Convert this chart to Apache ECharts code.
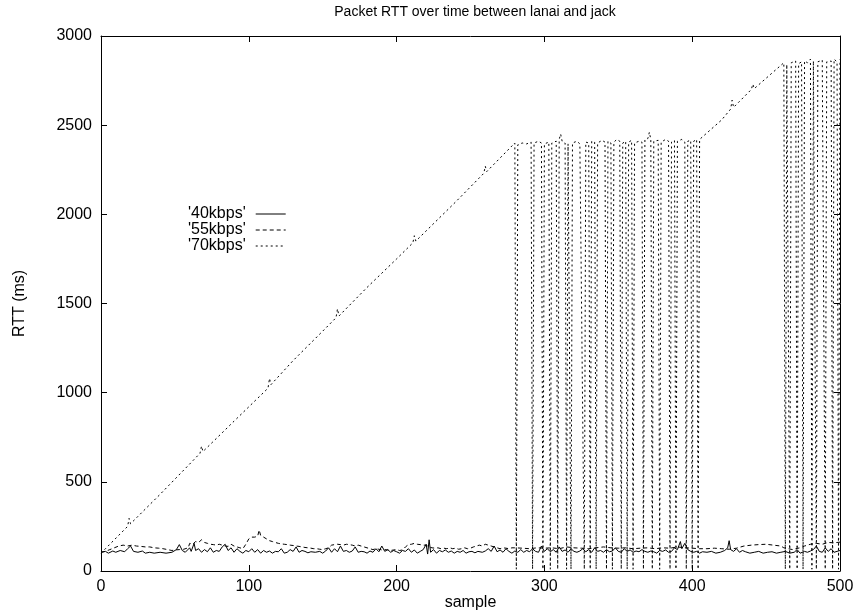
<!DOCTYPE html>
<html>
<head>
<meta charset="utf-8">
<title>Packet RTT over time between lanai and jack</title>
<script src="https://cdn.jsdelivr.net/npm/echarts@6/dist/echarts.min.js"></script>
<style>
  html, body { margin: 0; padding: 0; background: #fff; }
  #chart { width: 853px; height: 613px; }
</style>
</head>
<body>
<div id="chart"></div>
<script>
// series names as in the gnuplot key
var seriesNames = ["'40kbps'", "'55kbps'", "'70kbps'"];

// [sample, RTT ms]
var rtt40 = [
  [0,105],[3,110],[5,100],[8,112],[10,105],[13,115],[16,108],[18,125],[20,140],[22,110],
  [25,105],[28,112],[30,100],[33,105],[36,100],[40,105],[44,100],[48,105],[51,120],[53,148],
  [55,115],[57,105],[60,130],[61,110],[63,155],[64,115],[66,125],[68,105],[70,120],[72,108],
  [74,130],[76,105],[78,115],[80,110],[82,135],[84,150],[86,115],[88,130],[90,105],[92,125],
  [94,110],[96,100],[98,115],[100,108],[102,125],[104,105],[106,120],[108,100],[110,115],[112,105],
  [114,112],[116,100],[118,110],[120,108],[122,125],[124,100],[126,105],[128,120],[130,110],[132,135],
  [134,105],[136,115],[138,110],[140,102],[142,108],[145,105],[148,110],[150,100],[152,112],[154,130],
  [156,105],[158,125],[160,108],[162,140],[164,110],[166,115],[168,105],[170,112],[172,135],[174,105],
  [176,110],[178,108],[180,100],[182,112],[184,105],[186,125],[188,108],[190,140],[192,110],[194,120],
  [196,105],[198,115],[200,108],[202,100],[204,115],[206,110],[208,125],[210,105],[212,118],[214,100],
  [216,110],[218,120],[220,150],[221,95],[222,175],[223,105],[225,120],[227,100],[229,115],[231,108],
  [233,118],[235,105],[237,112],[239,100],[241,110],[243,105],[245,115],[247,100],[249,108],[251,110],
  [253,102],[255,110],[258,105],[260,112],[262,125],[264,110],[266,140],[268,108],[270,118],[272,105],
  [274,125],[276,110],[278,100],[280,112],[282,105],[284,120],[286,105],[288,115],[290,108],[292,125],
  [294,110],[296,105],[298,140],[300,110],[302,125],[304,108],[306,120],[308,105],[310,135],[312,110],
  [314,118],[316,105],[318,125],[320,110],[322,105],[324,112],[326,125],[328,108],[330,120],[332,105],
  [334,130],[336,110],[338,115],[340,105],[342,120],[344,108],[346,112],[348,130],[350,110],[352,105],
  [354,125],[356,110],[358,118],[360,105],[362,112],[364,108],[366,120],[368,110],[370,105],[372,112],
  [374,108],[376,100],[378,115],[380,110],[382,118],[384,105],[386,110],[388,130],[390,120],[392,165],
  [393,125],[395,155],[397,120],[399,110],[401,105],[403,110],[405,100],[407,108],[410,105],[413,110],
  [416,100],[419,105],[422,115],[424,130],[425,170],[426,120],[428,110],[430,125],[432,105],[434,115],
  [436,108],[439,100],[442,105],[445,110],[448,100],[451,105],[454,108],[457,100],[460,105],[463,110],
  [466,100],[469,105],[471,120],[473,100],[476,110],[478,105],[480,112],[482,120],[484,140],[486,110],
  [488,105],[490,130],[492,110],[494,125],[496,105],[498,110],[500,115]
];

var rtt55 = [
  [0,105],[3,110],[6,120],[9,130],[12,140],[15,145],[18,140],[21,145],[24,140],[27,138],
  [30,135],[33,135],[36,130],[39,128],[42,125],[45,120],[48,115],[50,118],[53,120],[56,122],
  [59,130],[60,155],[62,150],[64,165],[66,160],[68,175],[70,160],[72,155],[74,150],[76,148],
  [78,145],[80,150],[82,145],[84,140],[86,138],[88,150],[90,140],[92,135],[94,130],[96,125],
  [98,150],[100,180],[102,190],[104,190],[106,195],[107,230],[108,200],[110,190],[112,180],[114,170],
  [116,165],[118,160],[120,155],[122,152],[124,150],[126,148],[128,145],[130,143],[132,140],[134,138],
  [136,135],[138,132],[140,130],[142,128],[144,125],[146,125],[148,122],[150,120],[152,125],[154,130],
  [156,145],[158,148],[160,150],[162,148],[164,145],[166,150],[168,148],[170,145],[172,140],[174,145],
  [176,140],[178,135],[180,130],[182,125],[184,120],[186,125],[188,122],[190,118],[192,120],[194,118],
  [196,115],[198,118],[200,120],[202,115],[204,118],[206,135],[208,148],[210,150],[212,155],[214,150],
  [216,148],[218,145],[220,145],[222,135],[224,130],[226,128],[228,130],[230,125],[232,128],[234,125],
  [236,130],[238,125],[240,128],[242,122],[244,125],[246,130],[248,125],[250,128],[252,135],[254,140],
  [256,145],[258,140],[260,150],[262,145],[264,140],[266,135],[268,130],[270,125],[272,130],[274,128],
  [276,125],[278,130],[280,130],[285,128],[290,125],[295,130],[300,128],[305,130],[310,125],[315,135],
  [320,130],[325,128],[330,125],[335,130],[340,135],[345,130],[350,128],[355,130],[360,125],[365,128],
  [370,130],[375,125],[380,130],[385,128],[390,135],[395,130],[400,128],[405,125],[410,125],[415,128],
  [420,125],[425,122],[430,128],[435,140],[440,145],[445,148],[450,150],[455,145],[460,140],[462,130],
  [465,125],[468,120],[470,125],[473,130],[476,140],[480,150],[484,155],[488,150],[492,160],[496,158],
  [500,162]
];

var rtt70 = [
  [0,100],[18,250],[19,295],[20,265],[40,430],[60,600],[67,660],[68,700],[69,670],[90,840],
  [113,1025],[114,1080],[115,1045],[130,1180],[150,1345],[159,1420],[160,1470],[161,1430],[180,1590],
  [200,1750],[211,1840],[212,1880],[213,1850],[240,2070],[259,2230],[260,2270],[261,2240],[280,2400],
  [281,10],[282,2390],[285,2400],[288,2395],[291,2405],[292,10],[293,2400],[296,2410],[298,2400],[299,10],
  [300,2395],[303,2405],[304,10],[305,2400],[308,2410],[309,10],[310,2420],[311,2450],[312,2410],[314,2400],
  [315,10],[316,2395],[317,2405],[318,10],[319,2400],[322,2410],[324,2395],[327,10],[328,2405],[330,2400],
  [331,10],[332,2410],[334,2405],[335,10],[336,2400],[339,2415],[341,2405],[342,10],[343,2410],[345,2400],
  [346,10],[347,2405],[349,2420],[351,2410],[352,10],[353,2400],[355,2410],[356,10],[357,2405],[359,2415],
  [360,10],[361,2400],[364,2410],[366,2405],[367,10],[368,2420],[370,2425],[371,2460],[372,2420],[373,10],
  [374,2410],[377,2415],[378,10],[379,2405],[382,2420],[384,2410],[385,10],[386,2405],[388,2415],[389,10],
  [390,2410],[393,2420],[395,2405],[396,10],[397,2410],[399,2415],[400,10],[401,2410],[403,2420],[404,10],
  [405,2420],[420,2530],[426,2590],[427,2640],[428,2600],[440,2700],[441,2730],[442,2705],[462,2850],
  [463,10],[464,2840],[465,2845],[466,10],[467,2850],[470,2860],[471,10],[472,2845],[474,2855],[475,10],
  [476,2860],[478,2850],[480,2870],[481,10],[482,2860],[483,2850],[484,10],[485,2855],[488,2865],[489,2860],
  [490,10],[491,2855],[494,2860],[495,10],[496,2870],[498,2855],[499,10],[500,2870]
];

var font = "'Liberation Sans', Arial, Helvetica, sans-serif";

var chart = echarts.init(document.getElementById("chart"));

// mirrored ticks on top/right like gnuplot's border
function mirrorAxis(pos) {
  return {
    type: "value",
    position: pos,
    min: 0,
    max: pos === "top" ? 500 : 3000,
    interval: pos === "top" ? 100 : 500,
    axisLine: { show: true, onZero: false, lineStyle: { color: "#000", width: 1 } },
    axisTick: { show: true, inside: true, length: 6, lineStyle: { color: "#000" } },
    axisLabel: { show: false },
    splitLine: { show: false }
  };
}

chart.setOption({
  animation: false,
  backgroundColor: "#fff",
  title: {
    text: "Packet RTT over time between lanai and jack",
    left: 470,
    textAlign: "center",
    top: 0,
    textStyle: { fontFamily: font, fontSize: 14, fontWeight: "normal", color: "#000" }
  },
  legend: {
    orient: "vertical",
    left: 183,
    top: 201,
    align: "right",
    itemWidth: 30,
    itemHeight: 14,
    itemGap: 0,
    data: seriesNames,
    itemStyle: { opacity: 0 },
    lineStyle: { width: 1 },
    textStyle: { fontFamily: font, fontSize: 16, color: "#000", padding: [0, 5, 0, 0] }
  },
  grid: { left: 101, right: 13, top: 36, bottom: 42, outerBoundsMode: "none" },
  xAxis: [
    {
      type: "value",
      min: 0,
      max: 500,
      interval: 100,
      name: "sample",
      nameLocation: "middle",
      nameGap: 24,
      nameMoveOverlap: false,
      nameTextStyle: { fontFamily: font, fontSize: 16, color: "#000" },
      axisLine: { show: true, onZero: false, lineStyle: { color: "#000", width: 1 } },
      axisTick: { show: true, inside: true, length: 6, lineStyle: { color: "#000" } },
      axisLabel: { fontFamily: font, fontSize: 16, color: "#000", margin: 8 },
      splitLine: { show: false }
    },
    mirrorAxis("top")
  ],
  yAxis: [
    {
      type: "value",
      min: 0,
      max: 3000,
      interval: 500,
      name: "RTT (ms)",
      nameLocation: "middle",
      nameGap: 73,
      nameRotate: 90,
      nameMoveOverlap: false,
      nameTextStyle: { fontFamily: font, fontSize: 16, color: "#000" },
      axisLine: { show: true, onZero: false, lineStyle: { color: "#000", width: 1 } },
      axisTick: { show: true, inside: true, length: 6, lineStyle: { color: "#000" } },
      axisLabel: {
        fontFamily: font, fontSize: 16, color: "#000", margin: 9,
        formatter: function (v) { return String(v); }
      },
      splitLine: { show: false }
    },
    mirrorAxis("right")
  ],
  series: [
    {
      name: seriesNames[0],
      type: "line",
      data: rtt40,
      symbol: "none",
      lineStyle: { color: "#000", width: 1, type: "solid" },
      itemStyle: { color: "#000" }
    },
    {
      name: seriesNames[1],
      type: "line",
      data: rtt55,
      symbol: "none",
      lineStyle: { color: "#000", width: 1, type: [4, 3] },
      itemStyle: { color: "#000" }
    },
    {
      name: seriesNames[2],
      type: "line",
      data: rtt70,
      symbol: "none",
      lineStyle: { color: "#000", width: 1, type: [2, 3] },
      itemStyle: { color: "#000" }
    }
  ]
});
</script>
</body>
</html>
